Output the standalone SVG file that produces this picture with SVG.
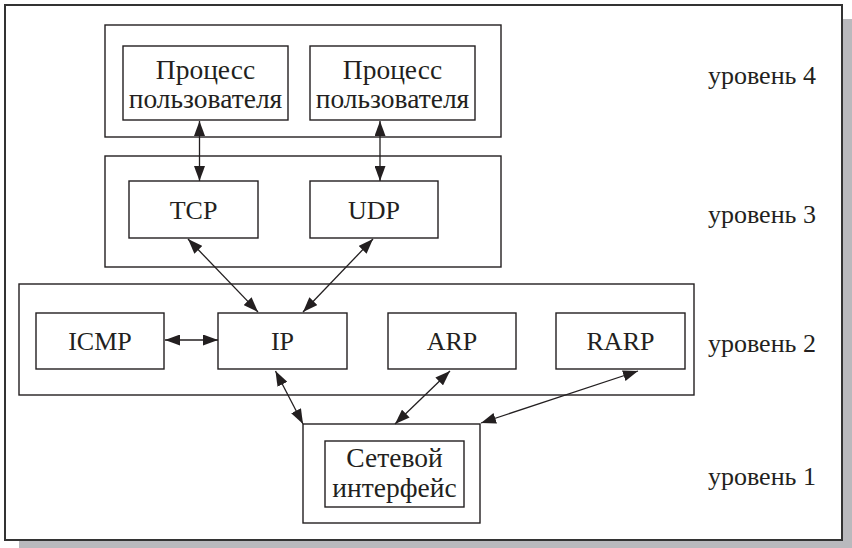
<svg xmlns="http://www.w3.org/2000/svg" width="852" height="548" viewBox="0 0 852 548">
<style>
.box{fill:#fff;stroke:#231f20;stroke-width:1.4}
.t{font-family:"Liberation Serif","Times New Roman",serif;font-size:26px;fill:#231f20;text-anchor:middle}
.r{font-size:27.5px}
.lv{font-family:"Liberation Serif","Times New Roman",serif;font-size:26px;fill:#231f20}
.c{stroke:#231f20;stroke-width:1.3;fill:none;marker-start:url(#a);marker-end:url(#a)}
</style>
<defs>
<marker id="a" viewBox="0 0 15 11" refX="15" refY="5.5" markerWidth="15" markerHeight="11" markerUnits="userSpaceOnUse" orient="auto-start-reverse">
<path d="M0,0 L15,5.5 L0,11 Z" fill="#231f20"/>
</marker>
</defs>
<rect x="19" y="19" width="840" height="540" fill="#b9b9bd"/>
<rect x="5" y="5" width="837" height="535" fill="#fff" stroke="#333" stroke-width="2"/>
<g id="level4">
<rect class="box" x="105" y="25" width="396" height="112"/>
<text class="lv" x="708" y="84">уровень 4</text>
</g>
<g id="proc1">
<rect class="box" x="123" y="46" width="165" height="74"/>
<text class="t r" x="205.5" y="79">Процесс</text>
<text class="t r" x="205.5" y="108">пользователя</text>
</g>
<g id="proc2">
<rect class="box" x="310" y="46" width="165" height="74"/>
<text class="t r" x="392.5" y="79">Процесс</text>
<text class="t r" x="392.5" y="108">пользователя</text>
</g>
<g id="level3">
<rect class="box" x="105" y="156" width="396" height="111"/>
<text class="lv" x="708" y="223">уровень 3</text>
</g>
<g id="tcp">
<rect class="box" x="129" y="181" width="129" height="57"/>
<text class="t" x="193.5" y="219">TCP</text>
</g>
<g id="udp">
<rect class="box" x="310" y="181" width="128" height="57"/>
<text class="t" x="374" y="219">UDP</text>
</g>
<g id="level2">
<rect class="box" x="19" y="284" width="675" height="111"/>
<text class="lv" x="708" y="352">уровень 2</text>
</g>
<g id="icmp">
<rect class="box" x="36" y="313" width="128" height="56"/>
<text class="t" x="100" y="350">ICMP</text>
</g>
<g id="ip">
<rect class="box" x="218" y="313" width="129" height="56"/>
<text class="t" x="282.5" y="350">IP</text>
</g>
<g id="arp">
<rect class="box" x="388" y="313" width="128" height="56"/>
<text class="t" x="452" y="350">ARP</text>
</g>
<g id="rarp">
<rect class="box" x="556" y="313" width="129" height="56"/>
<text class="t" x="620.5" y="350">RARP</text>
</g>
<g id="level1">
<rect class="box" x="303" y="424" width="177" height="99"/>
<text class="lv" x="708" y="485">уровень 1</text>
</g>
<g id="netif">
<rect class="box" x="325" y="441" width="139" height="66"/>
<text class="t r" x="394.5" y="467">Сетевой</text>
<text class="t r" x="394.5" y="497">интерфейс</text>
</g>
<g id="connectors">
<line class="c" x1="199.5" y1="121" x2="199.5" y2="181"/>
<line class="c" x1="380" y1="121" x2="380" y2="181"/>
<line class="c" x1="188" y1="239" x2="258" y2="312"/>
<line class="c" x1="373" y1="239" x2="303" y2="312"/>
<line class="c" x1="165" y1="340" x2="218" y2="340"/>
<line class="c" x1="275.5" y1="371" x2="303" y2="424"/>
<line class="c" x1="450" y1="371" x2="395" y2="424"/>
<line class="c" x1="638" y1="371" x2="481" y2="423"/>
</g>
</svg>
